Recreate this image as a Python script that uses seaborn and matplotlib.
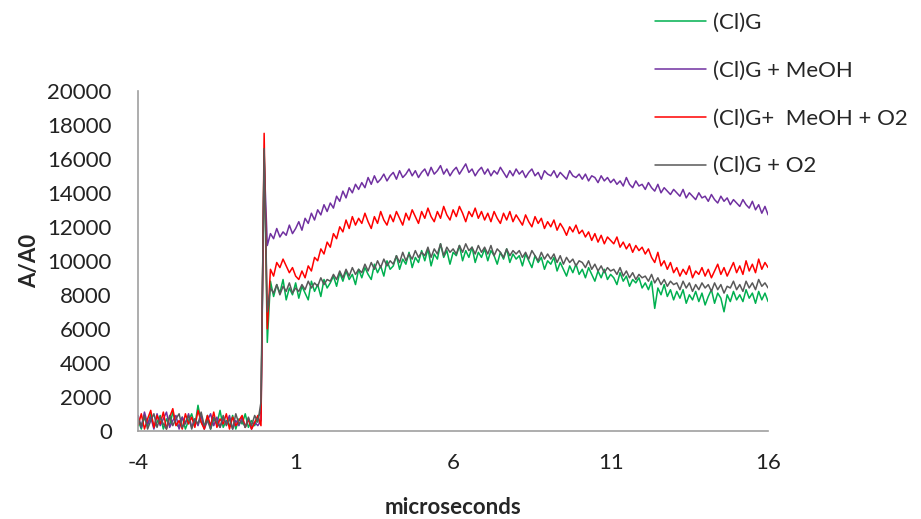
import numpy as np
import pandas as pd
import seaborn as sns
import matplotlib.pyplot as plt

# time axis, 0.1 microsecond steps from -4 to 16
time_us = np.round(np.arange(-4.0, 16.05, 0.1), 1)

labels = ['(Cl)G', '(Cl)G + MeOH', '(Cl)G+  MeOH + O2', '(Cl)G + O2']
colors = ['#00B050', '#7030A0', '#FF0000', '#595959']

# values (A/A0); 40 points before the flash, the spike at 0, 160 after
cl_g = [
    600, 100, 800, 300, 1000, 200, 500, 900, 100, 700, 300, 1100, 400, 200, 800, 100, 600, 1000, 300, 1500,
    500, 200, 900, 100, 700, 400, 1200, 200, 600, 300, 900, 100, 700, 400, 1000, 200, 600, 300, 800, 1100,
    16500,
    5200, 8800, 7900, 8600, 8100, 8900, 7700, 8400, 8000, 8700,
    7800, 8500, 8100, 7700, 8800, 8200, 8600, 7900, 8900, 8400,
    8700, 9100, 8500, 9300, 8800, 9400, 8900, 9200, 8600, 9500,
    9000, 9600, 9200, 8900, 9800, 9300, 9700, 9100, 10000, 9500,
    9700, 10300, 9500, 10100, 9800, 10500, 9600, 10200, 9900, 10600,
    10000, 10700, 9700, 10400, 10100, 11000, 10200, 10600, 9800, 10500,
    10300, 10900, 10000, 10600, 10200, 10800, 9900, 10500, 10200, 10700,
    10000, 10600, 10300, 9800, 10500, 10100, 10700, 9900, 10400, 10100,
    10300, 9700, 10400, 10000, 9600, 10300, 9900, 10200, 9500, 10000,
    9800, 10200, 9400, 9900, 9500, 9100, 9700, 9300, 9800, 9200,
    9500, 9000, 9600, 9200, 8800, 9400, 9000, 9500, 8900, 9200,
    9000, 8600, 9300, 8800, 9100, 8500, 8900, 8700, 9000, 8400,
    8700, 8300, 8800, 7200, 8400, 8000, 8600, 7900, 8300, 7700,
    8200, 7800, 8300, 7500, 8000, 7700, 8200, 7600, 8100, 7400,
    7900, 8300, 7500, 8100, 7800, 7000, 8000, 7600, 8200, 7700,
    8000, 7600, 8300, 7800, 8100, 7500, 8200, 7700, 8100, 7600,
]
cl_g_meoh = [
    900, 200, 1100, 400, 800, 100, 1000, 300, 700, 1100, 200, 600, 900, 100, 800, 400, 1000, 200, 700, 300,
    900, 100, 600, 1000, 300, 800, 200, 700, 400, 900, 100, 600, 300, 800, 200, 700, 100, 500, 300, 600,
    16000,
    10900, 11600, 11300, 11900, 11400, 11700, 11500, 12100, 11600, 11900,
    12300, 11800, 12500, 12200, 12800, 12400, 13000, 12700, 13300, 12900,
    13400, 13100, 13800, 13500, 14100, 13700, 14300, 14000, 14500, 14200,
    14600, 14300, 14900, 14500, 15000, 14600, 14800, 15100, 14700, 15000,
    15200, 14800, 15300, 14900, 15100, 15400, 15000, 15300, 14900, 15200,
    15400, 15000, 15500, 15100, 15300, 15600, 15100, 15400, 15000, 15300,
    15500, 15100, 15400, 15700, 15200, 15400, 15000, 15300, 15500, 15100,
    15400, 15000, 15300, 15100, 15500, 15200, 14900, 15300, 15000, 15400,
    15100, 15300, 14900, 15200, 15400, 15000, 15200, 14800, 15300, 15100,
    15000, 15300, 14900, 15200, 15000, 14800, 15300, 15000, 14900, 15100,
    14800, 15100, 14700, 15000, 14900, 14600, 15000, 14700, 14900, 14600,
    14800, 14500, 14700, 14400, 14900, 14500, 14300, 14700, 14400, 14500,
    14200, 14600, 14300, 14100, 14500, 14000, 14300, 14100, 13900, 14200,
    14000, 13800, 14200, 13700, 14000, 13800, 13600, 14000, 13700, 13800,
    13500, 13900, 13600, 13400, 13800, 13500, 13700, 13300, 13600, 13400,
    13200, 13600, 13300, 13100, 13500, 13000, 13300, 12800, 13200, 12700,
]
cl_g_meoh_o2 = [
    300, 1000, 100, 700, 1200, 200, 900, 400, 1100, 100, 800, 1300, 300, 600, 100, 1000, 400, 800, 200, 1200,
    500, 100, 900, 300, 1100, 200, 700, 400, 1000, 100, 800, 300, 600, 900, 200, 700, 100, 500, 900, 300,
    17500,
    6000, 9500, 9100, 9900, 9600, 10100, 9700, 9300, 9600, 9100,
    8900, 9400, 9000, 9700, 9400, 10200, 10000, 10700, 10400, 11100,
    10800, 11600, 11300, 12000, 11700, 12400, 11900, 12600, 12100, 12500,
    12200, 12800, 12300, 11900, 12600, 12200, 12900, 12400, 12100, 12700,
    12300, 12900, 12500, 12100, 12800, 12400, 13000, 12600, 12200, 12900,
    12500, 13100, 12600, 12300, 12900, 12500, 13200, 12700, 12400, 13000,
    12600, 13200, 12800, 12300, 12900, 12600, 13100, 12500, 12900, 12400,
    12800, 12300, 12900, 12500, 12200, 12800, 12400, 12900, 12300, 12700,
    12400, 12100, 12700, 12300, 12000, 12600, 12200, 12500, 11900, 12300,
    12000, 12400, 11800, 12200, 11900, 11500, 12000, 11700, 12100, 11600,
    11800, 11400, 11700, 11200, 11600, 11100, 11500, 11000, 11400, 11200,
    11000, 11400, 10800, 11100, 10700, 11000, 10500, 10900, 10600, 10800,
    10400, 10700, 10200, 9900, 10500, 9700, 10000, 9500, 9900, 9300,
    9600, 9100, 9500, 9200, 9700, 9000, 9400, 9200, 9600, 9100,
    9500, 9000, 9400, 9800, 9200, 9600, 9100, 9500, 9900, 9300,
    9700, 9200, 10000, 9400, 9800, 9300, 10100, 9500, 9900, 9600,
]
cl_g_o2 = [
    700, 300, 900, 100, 600, 1000, 200, 800, 400, 100, 900, 300, 700, 1000, 200, 500, 900, 100, 700, 400,
    1100, 300, 600, 100, 800, 500, 200, 900, 300, 700, 100, 1000, 400, 600, 200, 800, 300, 900, 500, 1700,
    16600,
    7000, 8400, 8100, 8600, 8000, 8500, 8200, 8700, 8100, 8400,
    8200, 8600, 8300, 8800, 8400, 8700, 8500, 9000, 8600, 8900,
    8800, 9200, 8900, 9400, 9000, 9500, 9100, 9600, 9200, 9500,
    9300, 9800, 9400, 9900, 9500, 10000, 9600, 10100, 9700, 10000,
    9800, 10300, 9900, 10500, 10000, 10400, 10100, 10600, 10200, 10500,
    10300, 10800, 10200, 10700, 10400, 11000, 10300, 10800, 10500, 10700,
    10400, 10900, 10500, 11000, 10600, 10800, 10400, 10900, 10500, 10800,
    10400, 10900, 10300, 10700, 10500, 10200, 10700, 10300, 10600, 10400,
    10600, 10200, 10500, 10100, 10600, 10300, 10000, 10500, 10100, 10400,
    10100, 10400, 9900, 10300, 9800, 10200, 9900, 10100, 9700, 10000,
    9900, 9600, 10000, 9500, 9800, 9400, 9700, 9300, 9600, 9400,
    9500, 9200, 9600, 9100, 9400, 9000, 9300, 8900, 9200, 9000,
    9100, 8800, 9200, 8700, 9000, 8600, 8900, 8500, 8800, 8600,
    8700, 8300, 8800, 8400, 8700, 8200, 8600, 8300, 8700, 8400,
    8600, 8200, 8700, 8300, 8600, 8100, 8500, 8400, 8800, 8300,
    8600, 8200, 8800, 8400, 8700, 8300, 8900, 8500, 8700, 8400,
]

frames = []
for name, vals in zip(labels, [cl_g, cl_g_meoh, cl_g_meoh_o2, cl_g_o2]):
    frames.append(pd.DataFrame({'t': time_us, 'A/A0': vals, 'series': name}))
df = pd.concat(frames, ignore_index=True)

sns.set_style('white')
plt.rcParams['font.family'] = ['Lato', 'DejaVu Sans']
plt.rcParams['axes.unicode_minus'] = False

fig = plt.figure(figsize=(9.21, 5.19), dpi=100)
ax = fig.add_axes([0.150, 0.170, 0.684, 0.655])

sns.lineplot(data=df, x='t', y='A/A0', hue='series', hue_order=labels,
             palette=colors, estimator=None, sort=False, lw=1.1, ax=ax)

ax.set_xlim(-4, 16)
ax.set_ylim(0, 20000)
ax.set_xticks([-4, 1, 6, 11, 16])
ax.set_yticks(range(0, 20001, 2000))
ax.tick_params(axis='both', length=0, labelsize=16, colors='#222222')
ax.tick_params(axis='y', pad=19)
ax.tick_params(axis='x', pad=16)

for s in ['top', 'right']:
    ax.spines[s].set_visible(False)
for s in ['left', 'bottom']:
    ax.spines[s].set_color('#a0a0a0')
    ax.spines[s].set_linewidth(1.2)

ax.set_xlabel('microseconds', fontsize=16, fontweight='bold')
ax.set_ylabel('A/A0', fontsize=16, fontweight='bold')
ax.xaxis.set_label_coords(0.5, -0.194)
ax.yaxis.set_label_coords(-0.156, 0.5)

ax.legend(loc='upper left', bbox_to_anchor=(655 / 921, 1 - 13 / 519),
          bbox_transform=fig.transFigure, frameon=False, fontsize=16,
          handlelength=2.3, handletextpad=0.3, labelspacing=1.25,
          borderpad=0, borderaxespad=0)

fig.savefig('out.png', dpi=100)
